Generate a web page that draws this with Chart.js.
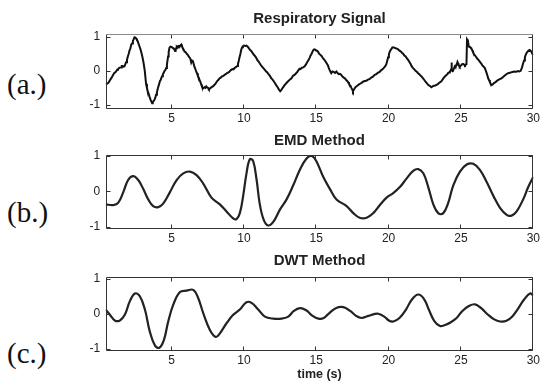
<!DOCTYPE html>
<html>
<head>
<meta charset="utf-8">
<script src="https://cdn.jsdelivr.net/npm/chart.js@4.4.1/dist/chart.umd.min.js"></script>
<style>
  html, body { margin: 0; padding: 0; width: 540px; height: 385px; overflow: hidden; background: #fff; }
  .panel { position: absolute; left: 60px; }
  .tag { position: absolute; left: 7px; font-family: "Liberation Serif", "Times New Roman", serif; font-size: 29px; line-height: 1; color: #111; }
</style>
</head>
<body>
<div class="tag" style="top:70px">(a.)</div>
<div class="tag" style="top:198px">(b.)</div>
<div class="tag" style="top:339px">(c.)</div>
<canvas id="c1" class="panel" width="500" height="125" style="top:0px"></canvas>
<canvas id="c2" class="panel" width="500" height="125" style="top:120px"></canvas>
<canvas id="c3" class="panel" width="500" height="140" style="top:245px"></canvas>
<script>
// Raw respiratory signal (normalised amplitude vs time in seconds)
const respTime = [
  0.45,0.55,0.62,0.7,0.78,0.86,0.94,1.05,1.11,1.17,1.24,1.3,1.4,1.51,1.56,1.62,1.68,1.74,1.8,1.86,
  1.92,1.98,2.04,2.1,2.16,2.21,2.27,2.33,2.38,2.44,2.5,2.55,2.61,2.67,2.73,2.78,2.84,2.9,2.98,3.06,
  3.15,3.24,3.3,3.35,3.41,3.47,3.56,3.66,3.7,3.74,3.82,3.88,3.93,3.99,4.05,4.12,4.2,4.25,4.3,4.35,
  4.4,4.46,4.52,4.58,4.63,4.68,4.72,4.76,4.8,4.86,4.92,4.98,5.04,5.09,5.15,5.2,5.24,5.28,5.32,5.36,
  5.4,5.44,5.5,5.55,5.61,5.67,5.72,5.78,5.84,5.9,5.97,6.05,6.12,6.2,6.25,6.3,6.36,6.42,6.48,6.53,
  6.58,6.64,6.7,6.76,6.82,6.88,6.93,6.99,7.05,7.1,7.16,7.22,7.28,7.34,7.4,7.46,7.52,7.58,7.63,7.7,
  7.8,7.88,7.97,8.05,8.15,8.23,8.32,8.4,8.5,8.58,8.66,8.75,8.85,8.93,9.01,9.1,9.2,9.28,9.36,9.42,
  9.48,9.54,9.59,9.65,9.7,9.76,9.82,9.88,9.93,10.0,10.1,10.18,10.28,10.36,10.45,10.53,10.62,10.7,10.78,10.85,
  10.95,11.02,11.09,11.2,11.3,11.42,11.54,11.62,11.7,11.8,11.89,11.97,12.05,12.14,12.23,12.3,12.38,12.45,12.51,12.58,
  12.65,12.73,12.81,12.9,13.0,13.08,13.16,13.24,13.32,13.41,13.5,13.59,13.68,13.77,13.85,13.92,14.0,14.1,14.2,14.28,
  14.37,14.45,14.54,14.61,14.68,14.75,14.82,14.9,14.97,15.05,15.12,15.2,15.3,15.38,15.46,15.55,15.63,15.72,15.81,15.87,
  15.93,16.0,16.04,16.12,16.2,16.3,16.39,16.47,16.55,16.64,16.73,16.81,16.9,16.98,17.07,17.14,17.2,17.26,17.31,17.37,
  17.43,17.49,17.54,17.6,17.65,17.71,17.77,17.86,17.95,18.03,18.11,18.23,18.35,18.46,18.58,18.7,18.8,18.92,19.04,19.15,
  19.25,19.38,19.5,19.6,19.7,19.78,19.85,19.91,19.97,20.02,20.08,20.14,20.2,20.25,20.31,20.4,20.48,20.57,20.66,20.75,
  20.83,20.92,21.0,21.09,21.18,21.27,21.35,21.44,21.52,21.6,21.69,21.78,21.86,21.95,22.04,22.12,22.2,22.29,22.38,22.47,
  22.55,22.64,22.73,22.84,22.96,23.04,23.13,23.22,23.31,23.4,23.48,23.57,23.65,23.74,23.82,23.91,24.0,24.06,24.12,24.18,
  24.23,24.28,24.32,24.34,24.38,24.45,24.51,24.57,24.63,24.68,24.72,24.76,24.8,24.84,24.88,24.92,24.98,25.04,25.1,25.15,
  25.22,25.28,25.33,25.38,25.42,25.48,25.54,25.58,25.63,25.68,25.72,25.78,25.83,25.89,25.95,26.03,26.12,26.21,26.3,26.39,
  26.48,26.57,26.65,26.71,26.77,26.83,26.88,26.94,27.0,27.05,27.1,27.19,27.28,27.36,27.45,27.53,27.62,27.71,27.8,27.91,
  28.03,28.14,28.26,28.38,28.5,28.61,28.72,28.83,28.93,29.03,29.13,29.22,29.3,29.36,29.42,29.47,29.52,29.58,29.64,29.7,
  29.75,29.81,29.87,29.93,30.0
];
const respValue = [
  -0.37,-0.38,-0.36,-0.31,-0.25,-0.2,-0.14,-0.06,-0.05,-0.02,0.03,0.05,0.09,0.1,0.14,0.14,0.12,0.13,0.19,0.25,
  0.32,0.42,0.5,0.6,0.66,0.76,0.8,0.88,0.92,0.98,0.97,0.95,0.9,0.86,0.78,0.72,0.65,0.56,0.42,0.25,
  0.0,-0.38,-0.5,-0.6,-0.66,-0.75,-0.86,-0.95,-0.92,-0.9,-0.85,-0.79,-0.7,-0.63,-0.52,-0.42,-0.3,-0.27,-0.2,-0.16,
  -0.1,-0.06,0.0,0.03,0.08,0.18,0.3,0.42,0.55,0.68,0.71,0.7,0.69,0.67,0.66,0.62,0.58,0.6,0.66,0.7,
  0.68,0.72,0.73,0.7,0.74,0.77,0.72,0.66,0.62,0.56,0.55,0.5,0.47,0.41,0.39,0.35,0.24,0.3,0.28,0.2,
  0.12,0.06,-0.02,-0.07,-0.15,-0.2,-0.27,-0.32,-0.4,-0.46,-0.52,-0.5,-0.48,-0.5,-0.46,-0.49,-0.5,-0.54,-0.53,-0.5,
  -0.47,-0.45,-0.41,-0.37,-0.3,-0.27,-0.22,-0.2,-0.16,-0.15,-0.12,-0.1,-0.06,-0.05,-0.02,0.02,0.05,0.04,0.08,0.1,
  0.12,0.14,0.2,0.3,0.4,0.5,0.62,0.69,0.72,0.74,0.73,0.74,0.7,0.65,0.6,0.57,0.51,0.46,0.43,0.38,
  0.3,0.27,0.22,0.15,0.1,0.04,-0.02,-0.05,-0.1,-0.15,-0.22,-0.25,-0.3,-0.36,-0.42,-0.46,-0.52,-0.57,-0.6,-0.57,
  -0.52,-0.47,-0.42,-0.38,-0.33,-0.3,-0.26,-0.24,-0.2,-0.14,-0.12,-0.08,-0.04,0.02,0.06,0.05,0.09,0.1,0.13,0.18,
  0.25,0.3,0.38,0.45,0.5,0.57,0.62,0.63,0.6,0.59,0.56,0.5,0.46,0.43,0.37,0.33,0.28,0.22,0.16,0.08,
  0.02,-0.04,-0.07,-0.02,-0.03,-0.06,-0.02,-0.06,-0.1,-0.09,-0.12,-0.17,-0.2,-0.22,-0.27,-0.3,-0.33,-0.38,-0.42,-0.44,
  -0.5,-0.55,-0.6,-0.55,-0.52,-0.48,-0.46,-0.43,-0.4,-0.38,-0.36,-0.32,-0.3,-0.29,-0.26,-0.24,-0.2,-0.17,-0.12,-0.1,
  -0.06,-0.03,0.02,0.05,0.1,0.14,0.2,0.3,0.4,0.48,0.56,0.61,0.64,0.68,0.69,0.68,0.66,0.65,0.63,0.59,
  0.57,0.53,0.5,0.45,0.42,0.36,0.32,0.26,0.2,0.13,0.08,0.04,0.0,-0.03,-0.07,-0.1,-0.14,-0.17,-0.22,-0.27,
  -0.32,-0.36,-0.41,-0.44,-0.48,-0.46,-0.44,-0.43,-0.41,-0.39,-0.36,-0.33,-0.31,-0.25,-0.2,-0.16,-0.12,-0.1,-0.06,-0.05,
  -0.02,0.0,0.04,0.24,0.02,0.0,0.06,0.13,0.1,0.18,0.2,0.26,0.22,0.18,0.14,0.12,0.15,0.17,0.2,0.2,
  0.18,0.16,0.18,0.19,0.92,0.88,0.72,0.7,0.7,0.67,0.66,0.6,0.55,0.5,0.46,0.42,0.36,0.32,0.27,0.22,
  0.16,0.12,0.08,0.01,-0.06,-0.14,-0.22,-0.27,-0.33,-0.38,-0.42,-0.4,-0.36,-0.34,-0.31,-0.28,-0.26,-0.24,-0.22,-0.18,
  -0.14,-0.1,-0.07,-0.06,-0.04,-0.03,-0.02,-0.03,-0.01,-0.02,0.0,0.1,0.22,0.3,0.4,0.46,0.51,0.55,0.58,0.6,
  0.61,0.59,0.56,0.5,0.46
];

// Component extracted with the EMD method
const emdTime = [0.45,0.97,1.31,1.66,2.0,2.35,2.7,3.04,3.39,3.73,4.08,4.42,4.88,5.35,5.81,6.27,6.73,7.19,7.76,8.34,8.8,9.26,9.49,9.72,9.95,10.18,10.41,10.64,10.88,11.1,11.38,11.68,12.03,12.49,12.95,13.41,13.87,14.33,14.68,15.0,15.48,15.94,16.4,17.1,17.56,18.0,18.48,18.94,19.4,19.86,20.32,20.78,21.24,21.7,22.05,22.4,22.74,23.09,23.43,23.78,24.12,24.47,24.93,25.4,25.85,26.31,26.77,27.24,27.7,28.16,28.5,28.85,29.3,29.65,30.0];
const emdValue = [-0.37,-0.39,-0.33,-0.03,0.32,0.43,0.32,0.07,-0.23,-0.42,-0.45,-0.35,-0.03,0.32,0.51,0.56,0.46,0.22,-0.18,-0.37,-0.57,-0.77,-0.79,-0.62,-0.13,0.51,0.91,0.86,0.32,-0.37,-0.82,-0.97,-0.87,-0.52,-0.23,0.17,0.61,0.93,1.0,0.86,0.41,0.07,-0.23,-0.42,-0.62,-0.75,-0.75,-0.62,-0.39,-0.18,-0.05,0.12,0.36,0.58,0.63,0.51,0.12,-0.37,-0.62,-0.62,-0.33,0.17,0.56,0.76,0.78,0.61,0.27,-0.13,-0.47,-0.67,-0.69,-0.57,-0.23,0.12,0.41];

// Component extracted with the DWT method
const dwtTime = [0.45,0.74,1.08,1.43,1.77,2.12,2.47,2.81,3.16,3.5,3.85,4.15,4.47,4.77,5.12,5.58,6.04,6.5,6.84,7.19,7.65,8.06,8.34,8.8,9.26,9.72,10.18,10.53,10.99,11.45,12.03,12.6,13.07,13.45,13.87,14.3,14.75,15.15,15.48,15.85,16.35,16.87,17.35,17.75,18.13,18.6,19.0,19.29,19.7,20.05,20.32,20.75,21.2,21.6,22.05,22.45,22.8,23.15,23.55,23.9,24.3,24.7,25.1,25.55,25.97,26.4,26.85,27.3,27.7,28.15,28.55,28.95,29.35,29.77,30.0];
const dwtValue = [0.12,-0.03,-0.19,-0.19,-0.03,0.36,0.58,0.5,0.12,-0.51,-0.9,-0.97,-0.75,-0.22,0.26,0.62,0.66,0.68,0.45,0.02,-0.46,-0.66,-0.56,-0.27,-0.03,0.12,0.33,0.31,0.12,-0.08,-0.14,-0.14,-0.08,0.08,0.16,0.1,-0.06,-0.14,-0.13,0.0,0.16,0.19,0.08,-0.06,-0.12,-0.06,-0.01,0.0,-0.08,-0.2,-0.22,-0.12,0.12,0.4,0.55,0.42,0.1,-0.2,-0.35,-0.32,-0.24,-0.12,0.08,0.22,0.27,0.16,-0.02,-0.16,-0.22,-0.2,-0.08,0.15,0.4,0.58,0.52];

// Axis ticks
const xTicks = [5, 10, 15, 20, 25, 30];
const yTicks = [-1, 0, 1];

const SANS = '"Liberation Sans", Arial, Helvetica, sans-serif';

// Box frame with short inward tick marks on all four sides
const boxFrame = {
  id: 'boxFrame',
  afterDatasetsDraw(chart, args, opts) {
    const { ctx, chartArea: a, scales: { x, y } } = chart;
    const L = 4;
    const l = Math.round(a.left) + 0.5, r = Math.round(a.right) - 0.5;
    const t = Math.round(a.top) + 0.5, b = Math.round(a.bottom) - 0.5;
    ctx.save();
    ctx.lineWidth = 1;
    ctx.strokeStyle = opts.color;
    ctx.beginPath();
    xTicks.forEach(v => {
      const px = Math.round(x.getPixelForValue(v)) - 0.5;
      ctx.moveTo(px, b); ctx.lineTo(px, b - L);
      ctx.moveTo(px, t); ctx.lineTo(px, t + L);
    });
    yTicks.forEach(v => {
      const py = Math.round(y.getPixelForValue(v)) + 0.5;
      ctx.moveTo(l, py); ctx.lineTo(l + L, py);
      ctx.moveTo(r, py); ctx.lineTo(r - L, py);
    });
    ctx.moveTo(l, t); ctx.lineTo(l, b); ctx.lineTo(r, b); ctx.lineTo(r, t);
    ctx.stroke();
    ctx.strokeStyle = opts.topColor;
    ctx.beginPath();
    ctx.moveTo(l, t); ctx.lineTo(r, t);
    ctx.stroke();
    ctx.restore();
  }
};

function makePanel(id, cfg) {
  const points = cfg.time.map((t, i) => ({ x: t, y: cfg.values[i] }));
  return new Chart(document.getElementById(id), {
    type: 'line',
    data: {
      datasets: [{
        data: points,
        borderColor: cfg.lineColor,
        borderWidth: cfg.lineWidth,
        pointRadius: 0,
        tension: cfg.tension,
        fill: false
      }]
    },
    options: {
      responsive: false,
      animation: false,
      devicePixelRatio: 1,
      layout: { padding: { left: 0, right: 26.7, top: 0, bottom: 0 } },
      plugins: {
        legend: { display: false },
        tooltip: { enabled: false },
        title: {
          display: true,
          text: cfg.title,
          fullSize: false,
          color: '#222',
          font: { family: SANS, size: 15, weight: 'bold', lineHeight: 1.2 },
          padding: { top: cfg.titlePadTop, bottom: cfg.titlePadBottom }
        },
        boxFrame: { color: '#333', topColor: cfg.topColor }
      },
      scales: {
        x: {
          type: 'linear',
          min: 0.45,
          max: 30,
          afterBuildTicks: s => { s.ticks = xTicks.map(v => ({ value: v })); },
          afterFit: s => { s.height = cfg.xAxisHeight; },
          grid: { display: false, drawTicks: false },
          border: { display: false },
          ticks: { color: '#222', font: { family: SANS, size: 12 }, padding: 2.5, maxRotation: 0, autoSkip: false },
          title: cfg.xTitle ? {
            display: true,
            text: cfg.xTitle,
            color: '#222',
            font: { family: SANS, size: 12.5, weight: 'bold', lineHeight: 1.2 },
            padding: { top: 0, bottom: 2.5 }
          } : { display: false }
        },
        y: {
          type: 'linear',
          min: cfg.yMin,
          max: cfg.yMax,
          afterBuildTicks: s => { s.ticks = yTicks.map(v => ({ value: v })); },
          afterFit: s => { s.width = 45.7; },
          grid: { display: false, drawTicks: false },
          border: { display: false },
          ticks: { color: '#222', font: { family: SANS, size: 12 }, padding: 5.5 }
        }
      }
    },
    plugins: [boxFrame]
  });
}

makePanel('c1', {
  title: 'Respiratory Signal', time: respTime, values: respValue,
  lineColor: '#111', lineWidth: 2, tension: 0, topColor: '#8a8a8a',
  titlePadTop: 9.5, titlePadBottom: 6.8, xAxisHeight: 16,
  yMin: -1.12, yMax: 1.07
});
makePanel('c2', {
  title: 'EMD Method', time: emdTime, values: emdValue,
  lineColor: '#222', lineWidth: 2.2, tension: 0.4, topColor: '#333',
  titlePadTop: 12, titlePadBottom: 5, xAxisHeight: 16,
  yMin: -1.07, yMax: 1.03
});
makePanel('c3', {
  title: 'DWT Method', time: dwtTime, values: dwtValue,
  lineColor: '#222', lineWidth: 2.2, tension: 0.4, topColor: '#333',
  titlePadTop: 6.8, titlePadBottom: 7.5, xAxisHeight: 33.7,
  yMin: -1.07, yMax: 1.04, xTitle: 'time (s)'
});
</script>
</body>
</html>
